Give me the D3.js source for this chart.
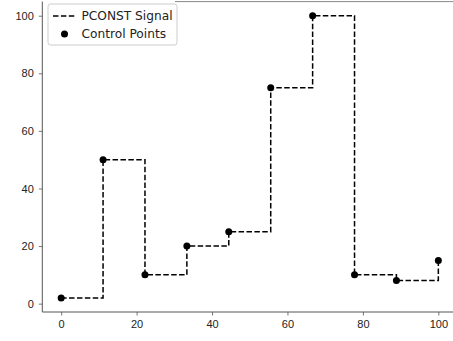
<!DOCTYPE html>
<html>
<head>
<meta charset="utf-8">
<script src="https://cdn.jsdelivr.net/npm/d3@7"></script>
<style>
  body { margin: 0; background: #fff; }
  svg { display: block; font-family: "DejaVu Sans", sans-serif; }
  .tick text { fill: #222; }
</style>
</head>
<body>
<div id="chart"></div>
<script>
// control points (linspace 0..100, 10 pts)
const xValues = [0, 11.11, 22.22, 33.33, 44.44, 55.56, 66.67, 77.78, 88.89, 100];
const yValues = [2, 50, 10, 20, 25, 75, 100, 10, 8, 15];
const xTicks = [0, 20, 40, 60, 80, 100];
const yTicks = [0, 20, 40, 60, 80, 100];
const legendLabels = ['PCONST Signal', 'Control Points'];

const W = 453, H = 341;
const plot = { left: 42.3, right: 457.2, top: 1.6, bottom: 312 };

const svg = d3.select('#chart').append('svg')
    .attr('width', W)
    .attr('height', H);

const x = d3.scaleLinear().domain([-5, 105]).range([plot.left, plot.right]);
const y = d3.scaleLinear().domain([-2.9, 104.9]).range([plot.bottom, plot.top]);

const points = xValues.map((v, i) => ({ x: v, y: yValues[i] }));

// axes
const xAxis = svg.append('g')
    .attr('transform', `translate(0,${plot.bottom})`)
    .call(d3.axisBottom(x).tickValues(xTicks).tickSize(3.5).tickPadding(5).tickFormat(d3.format('d')));

const yAxis = svg.append('g')
    .attr('transform', `translate(${plot.left},0)`)
    .call(d3.axisLeft(y).tickValues(yTicks).tickSize(3.5).tickPadding(5).tickFormat(d3.format('d')));

[xAxis, yAxis].forEach(a => {
    a.select('.domain').remove();
    a.selectAll('.tick line').attr('stroke', '#555').attr('stroke-width', 0.8);
    a.selectAll('.tick text').style('font-size', '11px');
});

// spines
svg.append('line')
    .attr('x1', plot.left).attr('x2', W)
    .attr('y1', plot.bottom).attr('y2', plot.bottom)
    .attr('stroke', '#555').attr('stroke-width', 1);
svg.append('line')
    .attr('x1', plot.left).attr('x2', plot.left)
    .attr('y1', plot.top).attr('y2', plot.bottom)
    .attr('stroke', '#555').attr('stroke-width', 1);
svg.append('line')
    .attr('x1', 175).attr('x2', W)
    .attr('y1', plot.top).attr('y2', plot.top)
    .attr('stroke', '#888').attr('stroke-width', 1);

// step signal
const line = d3.line()
    .x(d => x(d.x))
    .y(d => y(d.y))
    .curve(d3.curveStepAfter);

svg.append('path')
    .datum(points)
    .attr('fill', 'none')
    .attr('stroke', '#000')
    .attr('stroke-width', 1.5)
    .attr('stroke-dasharray', '5.5,2.4')
    .attr('d', line);

svg.selectAll('.dot')
    .data(points)
    .enter().append('circle')
    .attr('class', 'dot')
    .attr('cx', d => x(d.x))
    .attr('cy', d => y(d.y))
    .attr('r', 3.5)
    .attr('fill', '#000');

// legend
const lg = svg.append('g').attr('transform', 'translate(48,4)');
lg.append('rect')
    .attr('width', 129).attr('height', 41)
    .attr('rx', 2.5)
    .attr('fill', '#fff').attr('fill-opacity', 0.8)
    .attr('stroke', '#ccc').attr('stroke-width', 1);
lg.append('line')
    .attr('x1', 5).attr('x2', 27).attr('y1', 12).attr('y2', 12)
    .attr('stroke', '#000').attr('stroke-width', 1.5)
    .attr('stroke-dasharray', '5.5,2.4');
lg.append('circle')
    .attr('cx', 16.5).attr('cy', 30).attr('r', 3.5).attr('fill', '#000');
legendLabels.forEach((t, i) => {
    lg.append('text')
        .attr('x', 33.5)
        .attr('y', 12 + i * 18)
        .attr('dy', '0.36em')
        .style('font-size', '12.2px')
        .attr('fill', '#222')
        .text(t);
});
</script>
</body>
</html>
